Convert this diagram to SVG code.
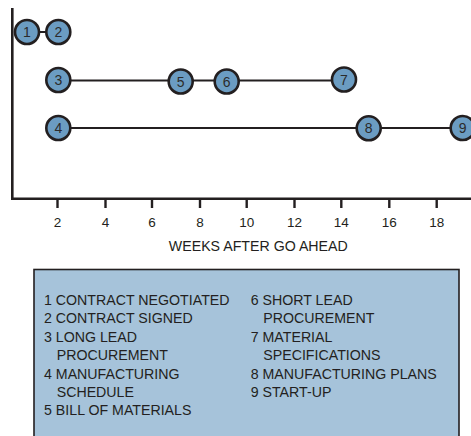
<svg xmlns="http://www.w3.org/2000/svg" width="471" height="436" viewBox="0 0 471 436">
<style>
.node circle{fill:#6b9cc2;stroke:#231f20;stroke-width:2.6}
.node text{font-family:"Liberation Sans",Arial,sans-serif;font-size:14px;fill:#2b2b2b;text-anchor:middle}
.conn line{stroke:#231f20;stroke-width:2}
.axis{stroke:#231f20;stroke-width:2.6;fill:none}
.tick{stroke:#231f20;stroke-width:2.4}
.tl{font-family:"Liberation Sans",Arial,sans-serif;font-size:13.5px;fill:#231f20;text-anchor:middle}
.lg{font-family:"Liberation Sans",Arial,sans-serif;font-size:14.2px;fill:#231f20}
</style>
<rect width="471" height="436" fill="#ffffff"/>
<g id="axes">
<path class="axis" d="M12.3 8 V198.7 H471"/>
<g>
<line class="tick" x1="57.5" y1="198.7" x2="57.5" y2="208"/>
<line class="tick" x1="105.5" y1="198.7" x2="105.5" y2="208"/>
<line class="tick" x1="152" y1="198.7" x2="152" y2="208"/>
<line class="tick" x1="200" y1="198.7" x2="200" y2="208"/>
<line class="tick" x1="246.7" y1="198.7" x2="246.7" y2="208"/>
<line class="tick" x1="294.5" y1="198.7" x2="294.5" y2="208"/>
<line class="tick" x1="341.3" y1="198.7" x2="341.3" y2="208"/>
<line class="tick" x1="389.3" y1="198.7" x2="389.3" y2="208"/>
<line class="tick" x1="436.7" y1="198.7" x2="436.7" y2="208"/>
</g>
<text class="tl" x="57.5" y="226.7">2</text>
<text class="tl" x="105.5" y="226.7">4</text>
<text class="tl" x="152" y="226.7">6</text>
<text class="tl" x="200" y="226.7">8</text>
<text class="tl" x="246.7" y="226.7">10</text>
<text class="tl" x="294.5" y="226.7">12</text>
<text class="tl" x="341.3" y="226.7">14</text>
<text class="tl" x="389.3" y="226.7">16</text>
<text class="tl" x="436.7" y="226.7">18</text>
<text class="tl" x="258.3" y="251" style="font-size:14.2px">WEEKS AFTER GO AHEAD</text>
</g>
<g class="conn" id="connectors">
<line x1="27" y1="32" x2="58" y2="32"/>
<line x1="58" y1="80.5" x2="181" y2="80.5"/>
<line x1="181" y1="80.5" x2="227" y2="80.5"/>
<line x1="227" y1="80.5" x2="344" y2="80.5"/>
<line x1="58" y1="128" x2="369" y2="128"/>
<line x1="369" y1="128" x2="463" y2="128"/>
</g>
<g class="node" id="n1"><circle cx="27" cy="32" r="12"/><text x="27" y="37">1</text></g>
<g class="node" id="n2"><circle cx="58.3" cy="32" r="12"/><text x="58.3" y="37">2</text></g>
<g class="node" id="n3"><circle cx="58.3" cy="80" r="12"/><text x="58.3" y="85">3</text></g>
<g class="node" id="n5"><circle cx="180.7" cy="81.5" r="12"/><text x="180.7" y="86.5">5</text></g>
<g class="node" id="n6"><circle cx="226.7" cy="81.5" r="12"/><text x="226.7" y="86.5">6</text></g>
<g class="node" id="n7"><circle cx="344" cy="79.5" r="12"/><text x="344" y="84.5">7</text></g>
<g class="node" id="n4"><circle cx="58.3" cy="128" r="12"/><text x="58.3" y="133">4</text></g>
<g class="node" id="n8"><circle cx="368.7" cy="128.3" r="12"/><text x="368.7" y="133.3">8</text></g>
<g class="node" id="n9"><circle cx="462.7" cy="128" r="12"/><text x="462.7" y="133">9</text></g>
<g id="legend">
<rect x="34" y="269.5" width="425" height="175" fill="#a6c3da" stroke="#231f20" stroke-width="1.6"/>
<text class="lg" x="44" y="305">1 CONTRACT NEGOTIATED</text>
<text class="lg" x="44" y="323.4">2 CONTRACT SIGNED</text>
<text class="lg" x="44" y="341.8">3 LONG LEAD</text>
<text class="lg" x="56.7" y="360.2">PROCUREMENT</text>
<text class="lg" x="44" y="378.6">4 MANUFACTURING</text>
<text class="lg" x="56.7" y="397">SCHEDULE</text>
<text class="lg" x="44" y="415.4">5 BILL OF MATERIALS</text>
<text class="lg" x="250.7" y="305">6 SHORT LEAD</text>
<text class="lg" x="263.3" y="323.4">PROCUREMENT</text>
<text class="lg" x="250.7" y="341.8">7 MATERIAL</text>
<text class="lg" x="263.3" y="360.2">SPECIFICATIONS</text>
<text class="lg" x="250.7" y="378.6">8 MANUFACTURING PLANS</text>
<text class="lg" x="250.7" y="397">9 START-UP</text>
</g>
</svg>
